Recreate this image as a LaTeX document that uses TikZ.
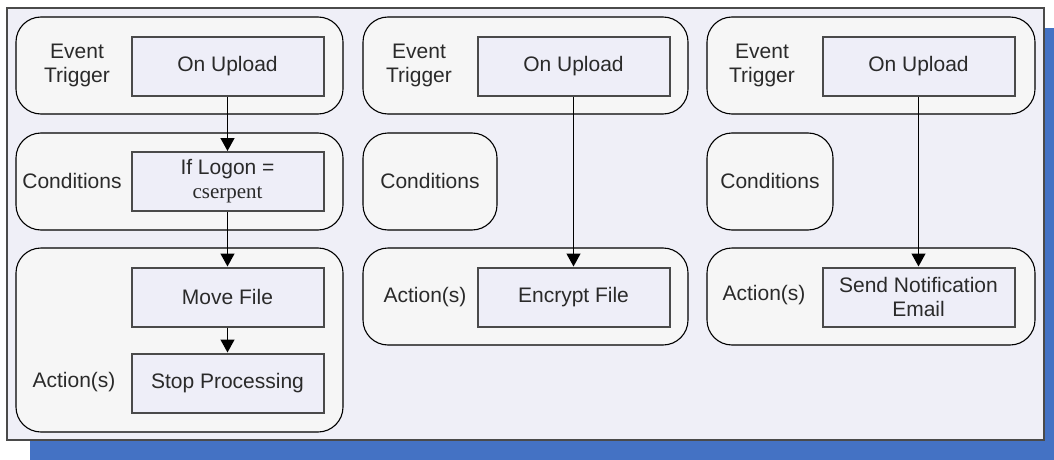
\documentclass[tikz,border=0pt]{standalone}
\usepackage{fontspec}
\setmainfont{Liberation Sans}
\newfontfamily\timesfont{Liberation Serif}
\usepackage{tikz}
\usetikzlibrary{arrows.meta, positioning}
\usepackage{xcolor}
\definecolor{shadowblue}{HTML}{4472C4}
\definecolor{framefill}{HTML}{EFEFF7}
\definecolor{panelfill}{HTML}{F6F6F6}
\definecolor{boxfill}{HTML}{EEEEF8}
\definecolor{boxline}{HTML}{4A4A4A}
\definecolor{textgray}{HTML}{2A2A2A}

\begin{document}
\begin{tikzpicture}[
    x=1pt, y=-1pt,
    every node/.style={font=\fontsize{21}{24}\selectfont, text=textgray},
    panel/.style={rectangle, rounded corners=25pt, draw=black, line width=1.1pt, fill=panelfill, inner sep=0pt},
    rule/.style={rectangle, draw=boxline, line width=2pt, fill=boxfill, minimum width=192pt, minimum height=59pt, align=center, inner sep=0pt},
    label/.style={align=center, inner sep=0pt},
    arrow/.style={-{Triangle[length=13pt, width=14pt]}, line width=1.3pt},
]
\useasboundingbox (0,0) rectangle (1054,460);

% Background
\fill[shadowblue] (30,28) rectangle (1054,460);
\draw[boxline, line width=1.6pt, fill=framefill] (7,8) rectangle (1044,440);

% Column 1
\node[panel, minimum width=327pt, minimum height=97pt] (ev1) at (179.5,65.5) {};
\node[panel, minimum width=327pt, minimum height=97pt] (cond1) at (179.5,181.5) {};
\node[panel, minimum width=327pt, minimum height=184pt] (act1) at (179.5,340) {};
\node[label] (evlbl1) at (77,65) {Event\\Trigger};
\node[label] (condlbl1) at (72,181) {Conditions};
\node[label] (actlbl1) at (74,382) {Action(s)};
\node[rule] (upload1) at (227.5,66.5) {On Upload};
\node[rule] (logon) at (227.5,181.5) {If Logon =\\{\timesfont cserpent}};
\node[rule] (move) at (227.5,297) {Move File};
\node[rule] (stop) at (227.5,383) {Stop Processing};

% Column 2
\node[panel, minimum width=325pt, minimum height=97pt] (ev2) at (525.5,65.5) {};
\node[panel, minimum width=134pt, minimum height=97pt] (cond2) at (430,181.5) {};
\node[panel, minimum width=325pt, minimum height=97pt] (act2) at (525.5,296.5) {};
\node[label] (evlbl2) at (419,65) {Event\\Trigger};
\node[label] (condlbl2) at (430,181) {Conditions};
\node[label] (actlbl2) at (425,297) {Action(s)};
\node[rule] (upload2) at (573.5,66.5) {On Upload};
\node[rule] (encrypt) at (573.5,297) {Encrypt File};

% Column 3
\node[panel, minimum width=328pt, minimum height=97pt] (ev3) at (871,65.5) {};
\node[panel, minimum width=126pt, minimum height=97pt] (cond3) at (770,181.5) {};
\node[panel, minimum width=328pt, minimum height=97pt] (act3) at (871,296.5) {};
\node[label] (evlbl3) at (762,65) {Event\\Trigger};
\node[label] (condlbl3) at (770,181) {Conditions};
\node[label] (actlbl3) at (764,295) {Action(s)};
\node[rule] (upload3) at (918.5,66.5) {On Upload};
\node[rule] (notify) at (918.5,297) {Send Notification\\Email};

% Arrows
\draw[arrow] (upload1) -- (logon);
\draw[arrow] (logon) -- (move);
\draw[arrow] (move) -- (stop);
\draw[arrow] (upload2) -- (encrypt);
\draw[arrow] (upload3) -- (notify);

\end{tikzpicture}
\end{document}
